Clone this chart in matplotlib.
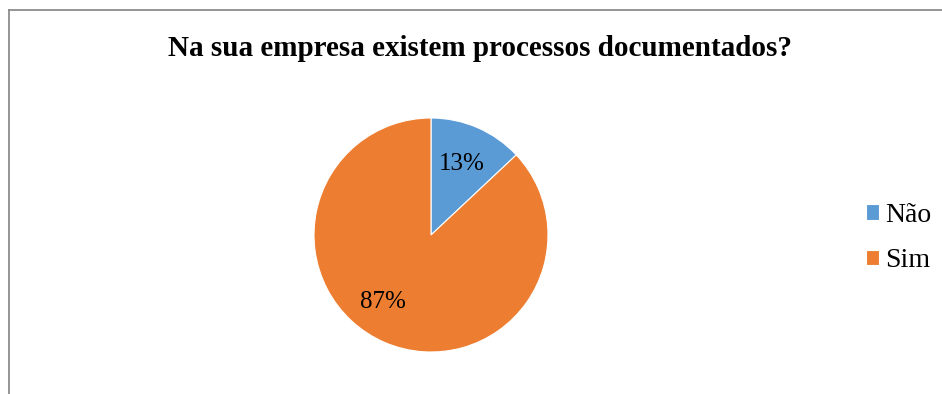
import matplotlib
matplotlib.use("Agg")
import matplotlib.pyplot as plt
from matplotlib.lines import Line2D

# ── Data ───────────────────────────────────────────────────────────────────────
categories = ["Não", "Sim"]
values = [13, 87]
colors = ["#5B9BD5", "#ED7D31"]
title = "Na sua empresa existem processos documentados?"

plt.rcParams["font.family"] = ["Liberation Serif", "DejaVu Serif"]

W, H = 942, 394
fig = plt.figure(figsize=(W / 100, H / 100), dpi=100)

# chart border (only left and top edges are visible in the crop)
fig.add_artist(Line2D([8.5 / W, 8.5 / W], [0, 1 - 9.5 / H], color="#8c8c8c", lw=1.3))
fig.add_artist(Line2D([8.5 / W, 1], [1 - 9.5 / H, 1 - 9.5 / H], color="#8c8c8c", lw=1.3))

# pie axes: centre (431, 235), radius 117 px
cx, cy, r = 431, 235, 117
ax = fig.add_axes([(cx - r) / W, (H - cy - r) / H, 2 * r / W, 2 * r / H])
wedges, texts, autotexts = ax.pie(
    values, colors=colors, startangle=90, counterclock=False,
    radius=1, autopct="%d%%", pctdistance=0.67,
    wedgeprops=dict(edgecolor="white", linewidth=0.8),
    textprops=dict(fontsize=18, color="black"),
)
# Excel's "best fit" label spots
autotexts[0].set_position((0.26, 0.61))
autotexts[1].set_position((-0.41, -0.57))
ax.set_xlim(-1, 1)
ax.set_ylim(-1, 1)
ax.set_aspect("equal")
ax.axis("off")

fig.text(480 / W, 1 - 49 / H, title, ha="center", va="center",
         fontsize=21, fontweight="bold")

fig.legend(wedges, categories, loc="center left",
           bbox_to_anchor=(855 / W, 1 - 238 / H), frameon=False,
           fontsize=20, handlelength=0.47, handleheight=0.47,
           handletextpad=0.22, labelspacing=0.73, borderaxespad=0)

fig.savefig("out.png", dpi=100)
